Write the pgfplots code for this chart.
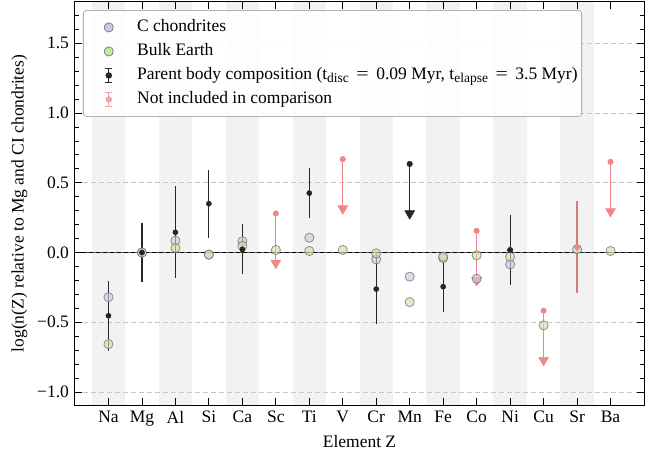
\documentclass[border=0pt]{standalone}
\usepackage{fontspec}
\setmainfont{Liberation Serif}
\usepackage{graphicx}
\usepackage{pgfplots}
\pgfplotsset{compat=1.18}
\definecolor{cpurple}{RGB}{212,196,224}
\definecolor{cgreen}{RGB}{200,228,166}
\definecolor{cpink}{RGB}{242,134,134}
\definecolor{csr}{RGB}{200,128,128}
\definecolor{cblack}{RGB}{38,38,38}
\definecolor{cband}{RGB}{242,242,242}
\newcommand{\fs}{\fontsize{17.5bp}{20bp}\selectfont}
\newcommand{\sub}[1]{{\fontsize{13.5bp}{14bp}\selectfont\raisebox{-3bp}{#1}}}
\newcommand{\eq}{\hspace{7.5bp}\scalebox{1.25}[1]{=}\hspace{7.5bp}}
\begin{document}
\fs
\begin{tikzpicture}
\begin{axis}[
  scale only axis, width=569bp, height=403bp,
  xmin=-1, xmax=16, ymin=-1.093, ymax=1.796,
  xtick={0,...,15},
  xticklabels={Na,Mg,Al,Si,Ca,Sc,Ti,V,Cr,Mn,Fe,Co,Ni,Cu,Sr,Ba},
  ytick={-1,-0.5,0,0.5,1,1.5},
  yticklabels={−1.0,−0.5,0.0,0.5,1.0,1.5},
  minor ytick={-0.9,-0.8,-0.7,-0.6,-0.4,-0.3,-0.2,-0.1,0.1,0.2,0.3,0.4,0.6,0.7,0.8,0.9,1.1,1.2,1.3,1.4,1.6,1.7},
  tick align=inside,
  major tick length=7bp, minor tick length=4bp,
  every tick/.style={black, line width=0.8bp},
  axis line style={black, line width=1bp},
  axis on top,
  xlabel={Element Z},
  ylabel={log(n(Z) relative to Mg and CI chondrites)},
  tick label style={font=\fs},
  label style={font=\fs},
  xlabel style={yshift=3bp},
  ylabel style={yshift=-2bp},
  legend cell align=left,
  legend style={at={(0.014,0.98)}, anchor=north west, draw=black!30, line width=0.8bp, rounded corners=3bp,
    fill=white, fill opacity=0.85, draw opacity=1, text opacity=1, font=\fs,
    inner xsep=2bp, inner ysep=5bp,
    nodes={text height=12bp, text depth=4bp, inner ysep=4bp},
    /tikz/every odd column/.append style={column sep=19bp}},
]
% background bands
\fill[cband] (axis cs:-0.5,-1.093) rectangle (axis cs:0.5,1.796);
\fill[cband] (axis cs:1.5,-1.093) rectangle (axis cs:2.5,1.796);
\fill[cband] (axis cs:3.5,-1.093) rectangle (axis cs:4.5,1.796);
\fill[cband] (axis cs:5.5,-1.093) rectangle (axis cs:6.5,1.796);
\fill[cband] (axis cs:7.5,-1.093) rectangle (axis cs:8.5,1.796);
\fill[cband] (axis cs:9.5,-1.093) rectangle (axis cs:10.5,1.796);
\fill[cband] (axis cs:11.5,-1.093) rectangle (axis cs:12.5,1.796);
\fill[cband] (axis cs:13.5,-1.093) rectangle (axis cs:14.5,1.796);
% grid
\foreach \yy in {-1,-0.5,0.5,1,1.5}{
  \edef\tmp{\noexpand\draw[black!22, line width=0.8bp, dash pattern=on 5bp off 3bp] (axis cs:-1,\yy) -- (axis cs:16,\yy);}\tmp
}
\draw[black!65, line width=0.9bp] (axis cs:-1,0) -- (axis cs:16,0);
\draw[black, line width=0.9bp, dash pattern=on 4bp off 3bp] (axis cs:-1,0) -- (axis cs:16,0);

% legend images
\addlegendimage{legend image code/.code={
  \path (0,0) (30bp,0);
  \draw[fill=cpurple, draw=black!55, line width=0.7bp, fill opacity=1, draw opacity=1] (23bp,0) circle (4.6bp);}}
\addlegendentry{C chondrites}
\addlegendimage{legend image code/.code={
  \path (0,0) (30bp,0);
  \draw[fill=cgreen, draw=black!55, line width=0.7bp, fill opacity=1, draw opacity=1] (23bp,0) circle (4.6bp);}}
\addlegendentry{Bulk Earth}
\addlegendimage{legend image code/.code={
  \path (0,0) (30bp,0);
  \draw[cblack, line width=1.2bp, draw opacity=1] (23bp,-7bp) -- (23bp,7bp) (19.5bp,-7bp) -- (26.5bp,-7bp) (19.5bp,7bp) -- (26.5bp,7bp);
  \fill[cblack, fill opacity=1] (23bp,0) circle (2.8bp);}}
\addlegendentry{Parent body composition (t\sub{disc}\eq0.09 Myr, t\sub{elapse}\eq3.5 Myr)}
\addlegendimage{legend image code/.code={
  \path (0,0) (30bp,0);
  \draw[cpink!75, line width=1.2bp, draw opacity=1] (23bp,-7bp) -- (23bp,7bp) (19.5bp,-7bp) -- (26.5bp,-7bp) (19.5bp,7bp) -- (26.5bp,7bp);
  \fill[cpink!75, fill opacity=1] (23bp,0) circle (2.8bp);}}
\addlegendentry{Not included in comparison}

% parent body composition (black, with errors)
\addplot[forget plot, only marks, mark=*, mark size=2.6bp, color=cblack,
  error bars/.cd, y dir=both, y explicit, error mark=none,
  error bar style={line width=1.2bp, cblack}]
  coordinates {
  (0,-0.453) +- (0,0.25)
  (1,0.0) +- (0,0.21)
  (2,0.145) +- (0,0.33)
  (3,0.35) +- (0,0.245)
  (4,0.023) +- (0,0.18)
  (6,0.426) +- (0,0.18)
  (8,-0.262) +- (0,0.25)
  (10,-0.245) +- (0,0.18)
  (12,0.018) +- (0,0.25)
  };
% Mn upper limit (black)
\addplot[forget plot, only marks, mark=none, color=cblack,
  error bars/.cd, y dir=minus, y explicit, error mark=none,
  error bar style={line width=1.2bp, cblack}]
  coordinates {(9,0.635) -= (0,0.355)};
\addplot[forget plot, only marks, mark=triangle*, mark size=5.8bp, color=cblack, mark options={rotate=180}]
  coordinates {(9,0.28)};
\addplot[forget plot, only marks, mark=*, mark size=2.8bp, color=cblack]
  coordinates {(9,0.635)};

% not included (pink)
\addplot[forget plot, only marks, mark=none, color=cpink,
  error bars/.cd, y dir=minus, y explicit, error mark=none,
  error bar style={line width=1.2bp, cpink}]
  coordinates {(5,0.28) -= (0,0.355) (7,0.67) -= (0,0.355) (11,0.156) -= (0,0.355) (13,-0.417) -= (0,0.355) (15,0.65) -= (0,0.355)};
\addplot[forget plot, only marks, mark=triangle*, mark size=5.8bp, color=cpink, mark options={rotate=180}]
  coordinates {(5,-0.075) (7,0.315) (11,-0.199) (13,-0.772) (15,0.295)};
\addplot[forget plot, only marks, mark=none, color=csr,
  error bars/.cd, y dir=both, y explicit, error mark=none,
  error bar style={line width=1.2bp, csr}]
  coordinates {(14,0.04) +- (0,0.33)};

% C chondrites
\addplot[forget plot, only marks, mark=*, mark size=4.6bp,
  mark options={fill=cpurple, draw=black!55, line width=0.7bp, fill opacity=0.65, draw opacity=0.85}]
  coordinates {(0,-0.32) (1,0) (2,0.085) (3,-0.015) (4,0.082) (6,0.106) (8,-0.049) (9,-0.173) (10,-0.04) (11,-0.188) (12,-0.085)};
% Bulk Earth
\addplot[forget plot, only marks, mark=*, mark size=4.6bp,
  mark options={fill=cgreen, draw=black!55, line width=0.7bp, fill opacity=0.65, draw opacity=0.85}]
  coordinates {(0,-0.656) (1,0) (2,0.032) (3,-0.015) (4,0.047) (5,0.018) (6,0.011) (7,0.018) (8,-0.006) (9,-0.355) (10,-0.03) (11,-0.02) (12,-0.03) (13,-0.522) (14,0.023) (15,0.011)};

% black points on top of the circles they overlap
\addplot[forget plot, only marks, mark=*, mark size=2.6bp, color=cblack]
  coordinates {(1,0.0) (4,0.023) (12,0.018)};

% pink points on top
\addplot[forget plot, only marks, mark=*, mark size=2.8bp, color=cpink]
  coordinates {(5,0.28) (7,0.67) (11,0.156) (13,-0.417) (14,0.04) (15,0.65)};

\coordinate (bl) at (rel axis cs:0,0);
\coordinate (tr) at (rel axis cs:1,1);
\end{axis}
\path (bl) ++(-75bp,-48bp);
\path (tr) ++(20bp,2bp);
\end{tikzpicture}
\end{document}
